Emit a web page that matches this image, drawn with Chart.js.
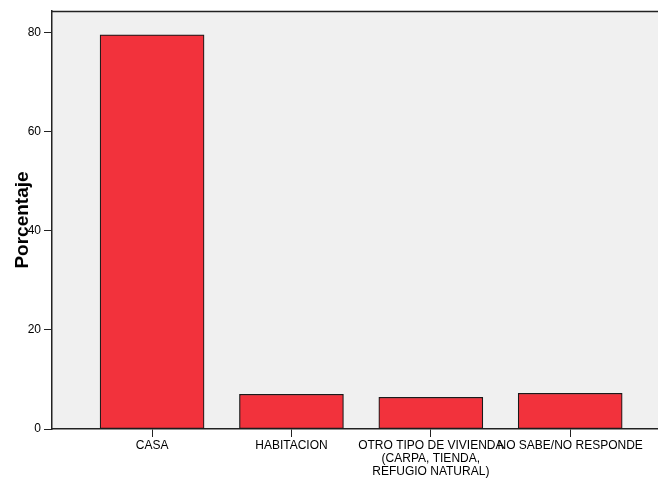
<!DOCTYPE html>
<html>
<head>
<meta charset="utf-8">
<script src="https://cdn.jsdelivr.net/npm/chart.js@4"></script>
<style>
  html, body { margin: 0; padding: 0; background: #fff; }
</style>
</head>
<body>
<canvas id="chart" width="658" height="480"></canvas>
<script>
const categories = ['CASA', 'HABITACION', ['OTRO TIPO DE VIVIENDA', '(CARPA, TIENDA,', 'REFUGIO NATURAL)'], 'NO SABE/NO RESPONDE'];
const percentages = [79.6, 7.0, 6.4, 7.2];
const yTicks = [0, 20, 40, 60, 80];

const frame = {
  id: 'frame',
  beforeDraw(chart) {
    const { ctx, chartArea: a } = chart;
    ctx.save();
    ctx.fillStyle = '#f0f0f0';
    ctx.fillRect(a.left, a.top, a.right - a.left, a.bottom - a.top);
    ctx.restore();
  },
  afterDraw(chart) {
    const { ctx, chartArea: a } = chart;
    ctx.save();
    ctx.strokeStyle = '#222';
    ctx.lineWidth = 1.5;
    ctx.beginPath();
    ctx.moveTo(a.left, a.top + 0.5);
    ctx.lineTo(a.right, a.top + 0.5);
    ctx.stroke();
    ctx.restore();
  }
};

Chart.defaults.font.family = '"Liberation Sans", Arial, sans-serif';
Chart.defaults.color = '#000';

new Chart(document.getElementById('chart'), {
  type: 'bar',
  data: {
    datasets: [{
      data: percentages.map((v, i) => ({ x: i, y: v })),
      backgroundColor: '#f2323c',
      borderColor: '#1a1a1a',
      borderWidth: 1.2,
      borderSkipped: false,
      barThickness: 104
    }]
  },
  options: {
    responsive: false,
    animation: false,
    layout: { padding: { top: 11, right: 0, left: 0, bottom: 0 } },
    plugins: { legend: { display: false }, tooltip: { enabled: false } },
    scales: {
      x: {
        type: 'linear',
        offset: false,
        min: -0.718,
        max: 3.63,
        afterBuildTicks: s => { s.ticks = categories.map((c, i) => ({ value: i })); },
        afterFit: s => { s.height = 51; },
        ticks: {
          autoSkip: false,
          maxRotation: 0,
          padding: 2,
          font: { size: 12, lineHeight: 1.1 },
          callback: v => categories[v]
        },
        grid: { offset: false, drawOnChartArea: false, tickLength: 8, tickColor: '#222' },
        border: { color: '#222', width: 1.5 }
      },
      y: {
        min: 0,
        max: 84.4,
        afterBuildTicks: s => { s.ticks = yTicks.map(v => ({ value: v })); },
        afterFit: s => { s.width = 52; },
        ticks: { padding: 3, font: { size: 12 } },
        grid: { drawOnChartArea: false, tickLength: 8, tickColor: '#222' },
        border: { color: '#222', width: 1.5 },
        title: {
          display: true,
          text: 'Porcentaje',
          font: { size: 19, weight: 'bold' },
          padding: { top: 11, bottom: 0 }
        }
      }
    }
  },
  plugins: [frame]
});
</script>
</body>
</html>
